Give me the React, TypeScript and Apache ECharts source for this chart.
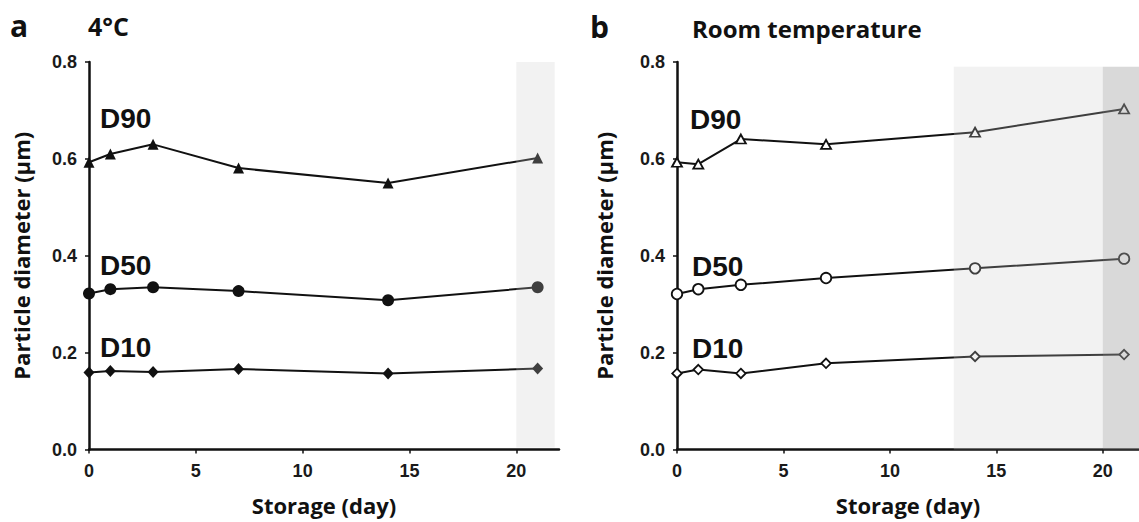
import React, { useEffect, useRef } from "react";
import * as echarts from "echarts";

const days = [0, 1, 3, 7, 14, 21];
const xTicks = [0, 5, 10, 15, 20];

const coldD90 = [0.593, 0.61, 0.63, 0.581, 0.55, 0.602];
const coldD50 = [0.322, 0.331, 0.335, 0.327, 0.308, 0.335];
const coldD10 = [0.159, 0.162, 0.16, 0.166, 0.157, 0.167];

const roomD90 = [0.593, 0.589, 0.641, 0.63, 0.655, 0.703];
const roomD50 = [0.321, 0.331, 0.34, 0.354, 0.374, 0.394];
const roomD10 = [0.157, 0.165, 0.157, 0.178, 0.192, 0.196];

const seriesLabels = ["D90", "D50", "D10"];
const panelLetters = ["a", "b"];
const panelTitles = ["4°C", "Room temperature"];

const INK = "#111";
const TICK_FONT = "'Liberation Sans', Arial, sans-serif";
const TITLE_FONT = "'Open Sans', 'DejaVu Sans', sans-serif";

function pairs(vals: number[]) {
  return days.map((d, i) => [d, vals[i]]);
}

export default function App() {
  const ref = useRef<HTMLDivElement>(null);

  useEffect(() => {
    if (!ref.current) return;
    const chart = echarts.init(ref.current, null, { renderer: "svg" });

    const xAxisBase = (gridIndex: number, max: number) => ({
      type: "value",
      gridIndex,
      min: 0,
      max,
      interval: 5,
      name: "Storage (day)",
      nameLocation: "middle",
      nameGap: 44,
      nameTextStyle: { fontFamily: TITLE_FONT, fontWeight: 700, fontSize: 22, color: INK },
      axisLine: { show: true, onZero: false, lineStyle: { color: INK, width: 2.5 } },
      axisTick: { show: true, length: 4, lineStyle: { color: INK, width: 1.5 }, customValues: xTicks },
      axisLabel: {
        fontFamily: TICK_FONT,
        fontWeight: "bold",
        fontSize: 18,
        color: "#1a1a1a",
        margin: 12,
        customValues: xTicks,
      },
      splitLine: { show: false },
    });

    const yAxisBase = (gridIndex: number, nameGap: number) => ({
      type: "value",
      gridIndex,
      min: 0,
      max: 0.8,
      interval: 0.2,
      name: "Particle diameter (µm)",
      nameLocation: "middle",
      nameGap,
      nameRotate: 90,
      nameTextStyle: { fontFamily: TITLE_FONT, fontWeight: 700, fontSize: 22, color: INK },
      axisLine: { show: true, onZero: false, lineStyle: { color: INK, width: 2.5 } },
      axisTick: { show: true, length: 4, lineStyle: { color: INK, width: 1.5 } },
      axisLabel: {
        fontFamily: TICK_FONT,
        fontWeight: "bold",
        fontSize: 18,
        color: "#1a1a1a",
        margin: 12,
        formatter: (v: number) => v.toFixed(1),
      },
      splitLine: { show: false },
    });

    const lineSeries = (
      name: string,
      vals: number[],
      idx: number,
      symbol: string,
      size: number | number[],
      filled: boolean
    ) => ({
      type: "line",
      name,
      xAxisIndex: idx,
      yAxisIndex: idx,
      data: pairs(vals),
      symbol,
      symbolSize: size,
      showAllSymbol: true,
      clip: false,
      z: 3,
      lineStyle: { color: INK, width: 2 },
      itemStyle: filled
        ? { color: INK, borderColor: INK, borderWidth: 0 }
        : { color: "#fff", borderColor: INK, borderWidth: 1.8 },
    });

    const labelText = (text: string, x: number, y: number) => ({
      type: "text",
      x,
      y,
      style: {
        text,
        fontFamily: TICK_FONT,
        fontWeight: "bold",
        fontSize: 28,
        fill: INK,
        verticalAlign: "middle",
      },
      z: 20,
    });

    const headText = (text: string, x: number, y: number, size: number) => ({
      type: "text",
      x,
      y,
      style: {
        text,
        fontFamily: TITLE_FONT,
        fontWeight: 700,
        fontSize: size,
        fill: INK,
        verticalAlign: "middle",
      },
      z: 20,
    });

    const option: any = {
      animation: false,
      backgroundColor: "#fff",
      grid: [
        { left: 89, top: 62, width: 470, height: 387.5, outerBoundsMode: "none", containLabel: false },
        { left: 677, top: 62, width: 462, height: 387.5, outerBoundsMode: "none", containLabel: false },
      ],
      xAxis: [xAxisBase(0, 22), xAxisBase(1, 21.7)],
      yAxis: [yAxisBase(0, 57), yAxisBase(1, 62)],
      series: [
        lineSeries(seriesLabels[0], coldD90, 0, "triangle", 11, true),
        lineSeries(seriesLabels[1], coldD50, 0, "circle", 12, true),
        lineSeries(seriesLabels[2], coldD10, 0, "diamond", [11, 12], true),
        lineSeries(seriesLabels[0], roomD90, 1, "triangle", [10, 9], false),
        lineSeries(seriesLabels[1], roomD50, 1, "circle", 10.5, false),
        lineSeries(seriesLabels[2], roomD10, 1, "diamond", 9.5, false),
        {
          type: "line",
          xAxisIndex: 0,
          yAxisIndex: 0,
          data: [],
          silent: true,
          z: 10,
          markArea: {
            silent: true,
            z: 10,
            data: [
              [
                { xAxis: 20, yAxis: 0.004, itemStyle: { color: "rgba(204,204,204,0.25)" } },
                { xAxis: 21.8, yAxis: 0.8 },
              ],
            ],
          },
        },
        {
          type: "line",
          xAxisIndex: 1,
          yAxisIndex: 1,
          data: [],
          silent: true,
          z: 10,
          markArea: {
            silent: true,
            z: 10,
            data: [
              [
                { xAxis: 13, yAxis: 0, itemStyle: { color: "rgba(204,204,204,0.25)" } },
                { xAxis: 20, yAxis: 0.79 },
              ],
              [
                { xAxis: 20, yAxis: 0, itemStyle: { color: "rgba(165,165,165,0.42)" } },
                { xAxis: 21.7, yAxis: 0.79 },
              ],
            ],
          },
        },
      ],
      graphic: [
        headText(panelLetters[0], 10, 25, 30),
        headText(panelTitles[0], 88, 26, 25),
        headText(panelLetters[1], 590, 26, 30),
        headText(panelTitles[1], 692, 28, 24),
        labelText(seriesLabels[0], 100, 118),
        labelText(seriesLabels[1], 100, 265),
        labelText(seriesLabels[2], 100, 347.5),
        labelText(seriesLabels[0], 690, 119.5),
        labelText(seriesLabels[1], 692, 266.5),
        labelText(seriesLabels[2], 692, 348),
      ],
    };

    chart.setOption(option);
    return () => chart.dispose();
  }, []);

  return (
    <div
      ref={ref}
      style={{ position: "fixed", left: 0, top: 0, width: 1139, height: 522, background: "#fff" }}
    />
  );
}
